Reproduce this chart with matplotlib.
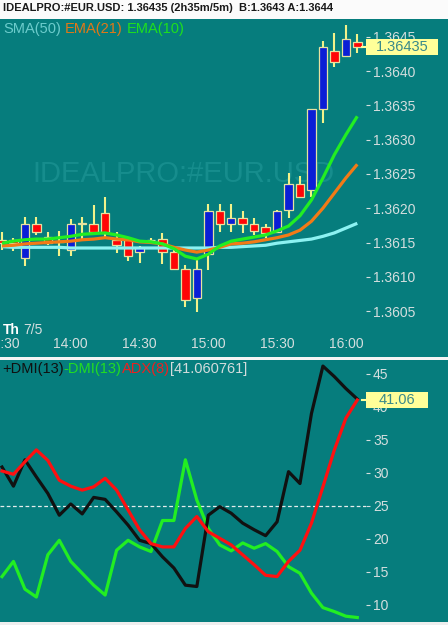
import matplotlib
matplotlib.use('Agg')
import matplotlib.pyplot as plt
from matplotlib.patches import Rectangle
import matplotlib.transforms as mtransforms

plt.rcParams['font.family'] = ['Liberation Sans', 'DejaVu Sans']

# ---------------- data ----------------
times = ['13:30', '13:35', '13:40', '13:45', '13:50', '13:55', '14:00', '14:05',
         '14:10', '14:15', '14:20', '14:25', '14:30', '14:35', '14:40', '14:45',
         '14:50', '14:55', '15:00', '15:05', '15:10', '15:15', '15:20', '15:25',
         '15:30', '15:35', '15:40', '15:45', '15:50', '15:55', '16:00', '16:05']
opens = [1.36154, 1.36154, 1.36127, 1.36177, 1.36158, 1.36152, 1.36139, 1.36177,
         1.36177, 1.36193, 1.36154, 1.36154, 1.36136, 1.36154, 1.36155, 1.36136,
         1.36111, 1.36069, 1.36133, 1.36196, 1.36177, 1.36186, 1.36177, 1.36173,
         1.36165, 1.36197, 1.36235, 1.36227, 1.36345, 1.36429, 1.36422, 1.36442]
highs = [1.36165, 1.36157, 1.36187, 1.36187, 1.36165, 1.36167, 1.36184, 1.36187,
         1.36205, 1.36216, 1.36165, 1.36158, 1.36145, 1.36157, 1.36164, 1.36139,
         1.36117, 1.36125, 1.36206, 1.36206, 1.36206, 1.36196, 1.36186, 1.36177,
         1.36198, 1.36251, 1.36247, 1.36345, 1.36444, 1.36455, 1.36467, 1.36454]
lows = [1.36139, 1.36138, 1.36116, 1.36161, 1.36146, 1.36130, 1.36130, 1.36154,
        1.36164, 1.36158, 1.36135, 1.36123, 1.36120, 1.36151, 1.36119, 1.36110,
        1.36056, 1.36049, 1.36110, 1.36165, 1.36165, 1.36164, 1.36161, 1.36157,
        1.36164, 1.36186, 1.36215, 1.36216, 1.36324, 1.36406, 1.36420, 1.36426]
closes = [1.36150, 1.36149, 1.36177, 1.36165, 1.36149, 1.36151, 1.36177, 1.36178,
          1.36165, 1.36164, 1.36146, 1.36130, 1.36142, 1.36153, 1.36136, 1.36111,
          1.36066, 1.36111, 1.36196, 1.36177, 1.36186, 1.36177, 1.36167, 1.36164,
          1.36196, 1.36235, 1.36216, 1.36345, 1.36435, 1.36413, 1.36447, 1.36435]
sma50 = [1.36144, 1.36143, 1.36143, 1.36143, 1.36143, 1.36143, 1.36142, 1.36142,
         1.36142, 1.36142, 1.36142, 1.36142, 1.36142, 1.36142, 1.36142, 1.36142,
         1.36142, 1.36142, 1.36142, 1.36143, 1.36143, 1.36144, 1.36145, 1.36146,
         1.36149, 1.36151, 1.36153, 1.36155, 1.36159, 1.36164, 1.36171, 1.36178]
ema21 = [1.36145, 1.36146, 1.36148, 1.36149, 1.36150, 1.36151, 1.36152, 1.36154,
         1.36155, 1.36157, 1.36155, 1.36154, 1.36151, 1.36150, 1.36148, 1.36143,
         1.36139, 1.36136, 1.36139, 1.36143, 1.36148, 1.36149, 1.36151, 1.36154,
         1.36157, 1.36161, 1.36168, 1.36181, 1.36200, 1.36222, 1.36244, 1.36264]
ema10 = [1.36149, 1.36152, 1.36154, 1.36155, 1.36155, 1.36157, 1.36159, 1.36162,
         1.36163, 1.36164, 1.36161, 1.36157, 1.36152, 1.36151, 1.36148, 1.36141,
         1.36130, 1.36126, 1.36133, 1.36145, 1.36152, 1.36155, 1.36158, 1.36161,
         1.36167, 1.36174, 1.36189, 1.36212, 1.36244, 1.36278, 1.36307, 1.36334]
plus_dmi = [30.9, 28.0, 32.0, 29.4, 26.9, 23.6, 25.3, 23.8, 26.3, 26.0, 24.1, 22.1,
            19.8, 19.3, 17.3, 15.6, 13.0, 12.8, 23.6, 24.9, 23.9, 22.4, 21.4, 20.5,
            22.6, 30.2, 28.4, 39.0, 46.2, 44.6, 42.8, 41.2]
minus_dmi = [14.3, 16.6, 12.4, 11.2, 17.6, 19.8, 16.6, 14.8, 13.0, 11.5, 18.3, 19.8,
             18.8, 18.1, 22.8, 22.8, 32.0, 25.9, 21.6, 19.1, 18.2, 19.4, 18.6, 19.3,
             18.1, 15.8, 14.8, 11.8, 9.6, 9.0, 8.3, 8.1]
adx = [30.3, 29.8, 31.7, 33.5, 31.9, 28.9, 28.0, 27.4, 27.9, 29.2, 27.4, 24.4,
       21.4, 19.3, 18.8, 18.8, 21.6, 23.4, 21.1, 20.1, 19.1, 17.6, 16.1, 14.5,
       14.3, 16.6, 18.3, 22.4, 27.9, 33.5, 38.3, 41.06]
price_ticks = [1.3605, 1.3610, 1.3615, 1.3620, 1.3625, 1.3630, 1.3635, 1.3640, 1.3645]
dmi_ticks = [10, 15, 20, 25, 30, 35, 40, 45]
time_labels = ['13:30', '14:00', '14:30', '15:00', '15:30', '16:00']
title = 'IDEALPRO:#EUR.USD: 1.36435 (2h35m/5m)  B:1.3643 A:1.3644'
watermark = 'IDEALPRO:#EUR.USD'
adx_last_text = '[41.060761]'
last_price_text = '1.36435'
last_adx_text = '41.06'
date_day, date_md = 'Th', '7/5'

# ---------------- styles ----------------
W, H = 448, 625
TEAL = '#067d7d'
LABEL = '#d4dede'
YELLOW_BOX = '#ffff99'
BOX_TEXT = '#3a8a8a'

fig = plt.figure(figsize=(W / 100, H / 100), dpi=100, facecolor=TEAL)


def rect(x0, y0, x1, y1):
    return [x0 / W, 1 - y1 / H, (x1 - x0) / W, (y1 - y0) / H]


def ftext(x, y, s, **kw):
    return fig.text(x / W, 1 - y / H, s, **kw)


# white strips
fig.patches.append(Rectangle((0, 1 - 19 / H), 1, 19 / H, transform=fig.transFigure,
                             facecolor='#fbfbfb', edgecolor='none', zorder=0))
fig.patches.append(Rectangle((0, 1 - 360 / H), 1, 3 / H, transform=fig.transFigure,
                             facecolor='#f4f4f4', edgecolor='none', zorder=0))
fig.patches.append(Rectangle((0, 0), 1, 3 / H, transform=fig.transFigure,
                             facecolor='#eeeeee', edgecolor='none', zorder=0))

x = list(range(len(times)))
XLIM = (-0.1745, 31.76)

# ---------------- price panel ----------------
ax = fig.add_axes(rect(0, 19, 366, 333))
ax.set_facecolor(TEAL)
ax.set_xlim(*XLIM)
ax.set_ylim(1.360181, 1.364758)
for s in ax.spines.values():
    s.set_visible(False)

ax.text(0.5, 0.505, watermark, transform=ax.transAxes, ha='center', va='center',
        fontsize=21, color='#168d8d', zorder=0.5)

ax.vlines(x, lows, highs, color='#f2f28a', lw=1.5, zorder=2)
colors = ['#0a1ed6' if c >= o else '#ff0606' for o, c in zip(opens, closes)]
bottoms = [min(o, c) for o, c in zip(opens, closes)]
heights = [max(abs(c - o), 0.000004) for o, c in zip(opens, closes)]
ax.bar(x, heights, bottom=bottoms, width=0.74, color=colors, edgecolor='#e6e2a0',
       linewidth=0.9, zorder=3)

ax.plot(x, sma50, color='#8cf2f2', lw=2.3, zorder=4, solid_capstyle='butt')
ax.plot(x, ema21, color='#f27a16', lw=2.3, zorder=5, solid_capstyle='butt')
ax.plot(x, ema10, color='#22ee22', lw=2.3, zorder=6, solid_capstyle='butt')

ax.yaxis.tick_right()
ax.set_yticks(price_ticks)
ax.set_yticklabels([f'{v:.4f}' for v in price_ticks])
ax.tick_params(axis='y', colors=LABEL, labelcolor=LABEL, length=3, width=0.8,
               pad=2, labelsize=10)
ax.set_xticks([times.index(t) for t in time_labels])
ax.set_xticklabels(time_labels)
ax.tick_params(axis='x', length=0, pad=3.2, labelsize=10, labelcolor=LABEL)

# ---------------- DMI panel ----------------
bx = fig.add_axes(rect(0, 360, 366, 622))
bx.set_facecolor(TEAL)
bx.set_xlim(*XLIM)
bx.set_ylim(7.42, 47.12)
for s in bx.spines.values():
    s.set_visible(False)
bx.axhline(25, color='#e4ecec', lw=0.9, ls=(0, (3, 2)), zorder=1)
bx.plot(x, minus_dmi, color='#22ee22', lw=2.3, zorder=3)
bx.plot(x, plus_dmi, color='#111111', lw=2.3, zorder=4)
bx.plot(x, adx, color='#ff1010', lw=2.3, zorder=5)
bx.yaxis.tick_right()
bx.set_yticks(dmi_ticks)
bx.set_yticklabels([str(v) for v in dmi_ticks])
bx.tick_params(axis='y', colors=LABEL, labelcolor=LABEL, length=3, width=0.8,
               pad=2, labelsize=10)
bx.set_xticks([])

# ---------------- texts ----------------
ftext(3, 8, title, fontsize=8, fontweight='bold', color='#1a1a1a', va='center')

fig.canvas.draw()
renderer = fig.canvas.get_renderer()


def seq_text(x0, y, parts, size=10.5, gap=4):
    xx = x0
    for s, col, wt in parts:
        t = ftext(xx, y, s, fontsize=size, color=col, fontweight=wt, va='center', ha='left')
        bb = t.get_window_extent(renderer)
        xx += bb.width + gap


seq_text(3, 28.5, [('SMA(50)', '#6ccccc', 'normal'), ('EMA(21)', '#e07818', 'normal'),
                   ('EMA(10)', '#1ee01e', 'normal')])
seq_text(2, 369, [('+DMI(13)', '#101010', 'normal'), ('-DMI(13)', '#22dd22', 'normal'),
                  ('ADX(8)', '#ee2020', 'normal'), (adx_last_text, '#d4dcdc', 'normal')],
         gap=0)
seq_text(3, 329.5, [(date_day, '#ffffff', 'bold'), (date_md, LABEL, 'normal')], size=10, gap=3)


def value_box(axis, last_x, yval, text, width):
    xr = axis.transAxes.transform((1.0, 0))[0]
    yd = axis.transData.transform((last_x, yval))[1]
    axis.plot([last_x + 0.4, XLIM[1]], [yval, yval], color=YELLOW_BOX, lw=1.5,
              zorder=6, clip_on=False)
    h = 16
    fig.patches.append(Rectangle((xr, yd - h / 2), width, h,
                                 transform=mtransforms.IdentityTransform(),
                                 facecolor=YELLOW_BOX, edgecolor='none', zorder=2))
    fig.texts.append(matplotlib.text.Text(xr + width / 2, yd, text, fontsize=10.5,
                                          color=BOX_TEXT, ha='center', va='center',
                                          transform=mtransforms.IdentityTransform(),
                                          zorder=3, figure=fig))


value_box(ax, x[-1], closes[-1], last_price_text, 72)
value_box(bx, x[-1], adx[-1], last_adx_text, 62)

fig.savefig('out.png', dpi=100, facecolor=TEAL)
